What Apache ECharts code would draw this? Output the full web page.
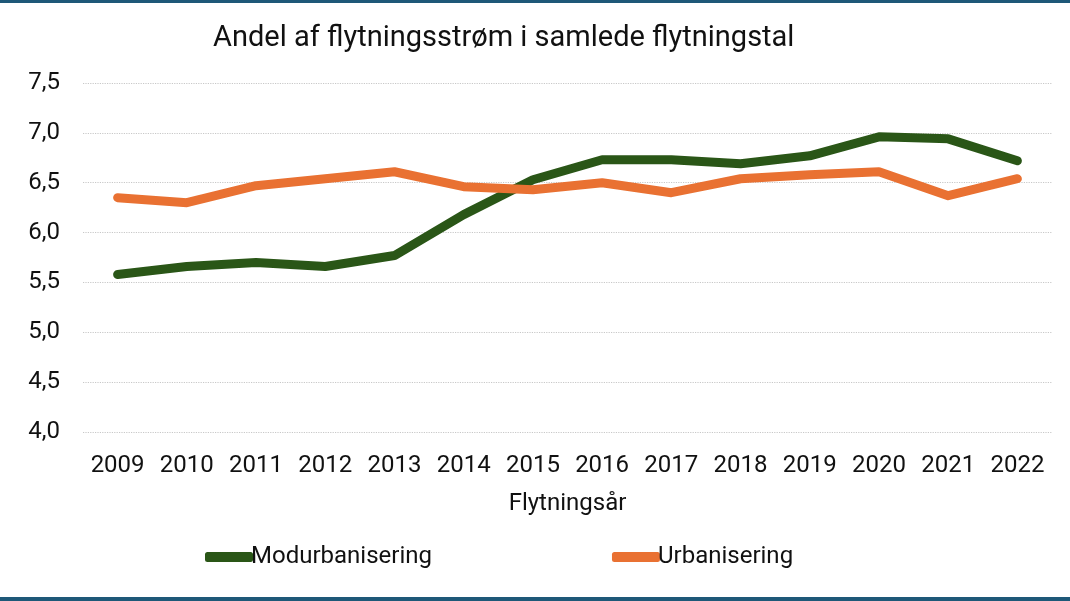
<!DOCTYPE html>
<html><head><meta charset="utf-8">
<script src="https://cdn.jsdelivr.net/npm/echarts@6/dist/echarts.min.js"></script>
<style>html,body{margin:0;padding:0;background:#fff}#c{width:1070px;height:601px}</style>
</head><body><div id="c"></div>
<script>
const years = ['2009','2010','2011','2012','2013','2014','2015','2016','2017','2018','2019','2020','2021','2022'];
const modurbanisering = [5.58,5.66,5.70,5.66,5.77,6.18,6.53,6.73,6.73,6.69,6.77,6.96,6.94,6.72];
const urbanisering = [6.35,6.30,6.47,6.54,6.61,6.46,6.43,6.50,6.40,6.54,6.58,6.61,6.37,6.54];
const seriesNames = ['Modurbanisering','Urbanisering'];
const colors = ['#2a5617','#e97132'];
const chart = echarts.init(document.getElementById('c'));
const font = 'Roboto';
chart.setOption({
  animation:false,
  backgroundColor:'#fff',
  title:{text:'Andel af flytningsstrøm i samlede flytningstal',left:208,top:19,
    textStyle:{fontFamily:font,fontSize:29,fontWeight:'normal',color:'#111'}},
  legend:{data:seriesNames,left:200,top:540,itemWidth:48,itemHeight:10,itemGap:180,icon:'roundRect',
    textStyle:{fontFamily:font,fontSize:24,color:'#111',padding:[0,0,0,-7]}},
  grid:{left:83,right:18,top:83,bottom:169,containLabel:false},
  xAxis:{type:'category',data:years,boundaryGap:true,name:'Flytningsår',nameLocation:'middle',nameGap:60,
    nameTextStyle:{fontFamily:font,fontSize:24,color:'#111'},
    axisLine:{show:false},axisTick:{show:false},
    axisLabel:{fontFamily:font,fontSize:24,color:'#111',margin:22,interval:0}},
  yAxis:{type:'value',min:4,max:7.5,interval:0.5,
    axisLabel:{fontFamily:font,fontSize:24,color:'#111',margin:23,formatter:v=>v.toFixed(1).replace('.',',')},
    splitLine:{lineStyle:{type:'dotted',color:'#c8c8c8',width:1.2}},
    axisLine:{show:false},axisTick:{show:false}},
  series:[
    {name:seriesNames[0],type:'line',data:modurbanisering,symbol:'none',lineStyle:{width:9,color:colors[0],cap:'round',join:'round'},itemStyle:{color:colors[0]}},
    {name:seriesNames[1],type:'line',data:urbanisering,symbol:'none',lineStyle:{width:9,color:colors[1],cap:'round',join:'round'},itemStyle:{color:colors[1]}}
  ],
  graphic:[
    {type:'rect',shape:{x:0,y:0,width:1070,height:3},style:{fill:'#1e5878'}},
    {type:'rect',shape:{x:0,y:597,width:1070,height:4},style:{fill:'#1e5878'}}
  ]
});
</script></body></html>
